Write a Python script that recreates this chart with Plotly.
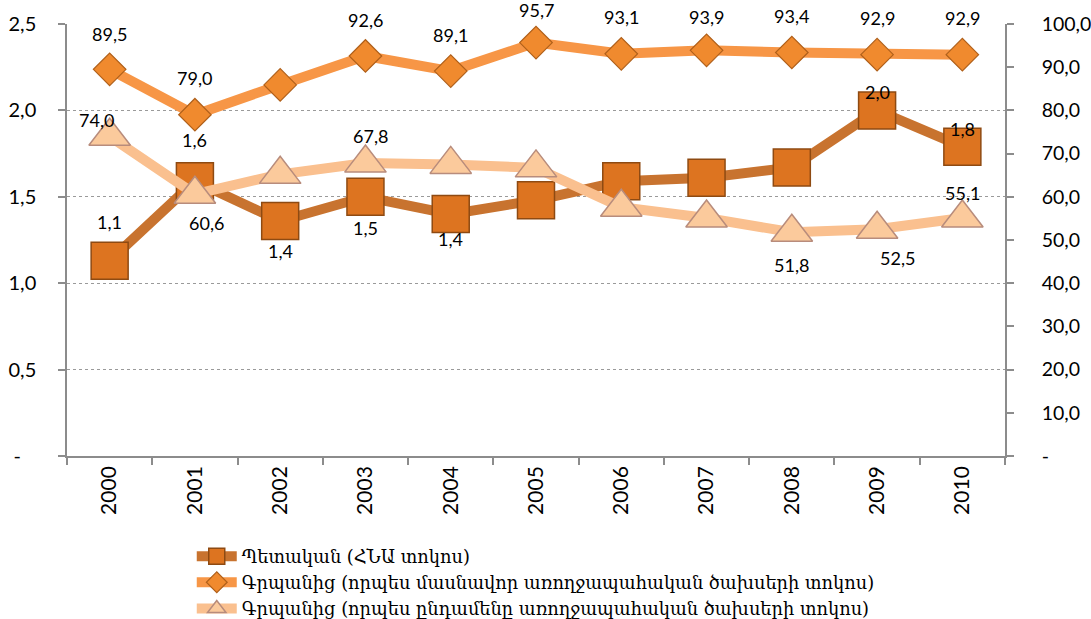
import plotly.graph_objects as go

# ---------------- data ----------------
years = ["2000", "2001", "2002", "2003", "2004", "2005", "2006", "2007", "2008", "2009", "2010"]
state_gdp = [1.13, 1.59, 1.36, 1.50, 1.40, 1.48, 1.59, 1.61, 1.67, 2.00, 1.79]
oop_private = [89.5, 79.0, 85.9, 92.6, 89.1, 95.7, 93.1, 93.9, 93.4, 92.9, 92.9]
oop_total = [74.0, 60.6, 65.2, 67.8, 67.5, 66.7, 57.6, 55.1, 51.8, 52.5, 55.1]

names = [
    "Պետական (ՀՆԱ տոկոս)",
    "Գրպանից (որպես մասնավոր առողջապահական ծախսերի տոկոս)",
    "Գրպանից (որպես ընդամենը առողջապահական ծախսերի տոկոս)",
]

left_ticks = [0, 0.5, 1.0, 1.5, 2.0, 2.5]
left_ticktext = ["-\u00a0\u00a0\u00a0", "0,5", "1,0", "1,5", "2,0", "2,5"]
right_ticks = [0, 10, 20, 30, 40, 50, 60, 70, 80, 90, 100]
right_ticktext = ["-", "10,0", "20,0", "30,0", "40,0", "50,0", "60,0", "70,0", "80,0", "90,0", "100,0"]

# label placement (style): index -> (xshift, yshift) in px
state_label_pos = {0: (0, 39), 1: (0, 41), 2: (0, -30), 3: (0, -31), 4: (0, -25), 9: (0, 18), 10: (0, 18)}
private_label_pos = {0: (0, 35), 1: (0, 37), 3: (0, 36), 4: (0, 36), 5: (0, 33), 6: (0, 37),
                     7: (0, 33), 8: (0, 37), 9: (0, 37), 10: (0, 37)}
total_label_pos = {0: (-13, 16), 1: (12, -29), 3: (5, 27), 8: (0, -33), 9: (20, -29), 10: (0, 25)}

# ---------------- styles ----------------
C_STATE_LINE = "#C8732F"
C_STATE_FILL = "#DD7420"
C_STATE_EDGE = "#8E4A12"
C_PRIV_LINE = "#F79646"
C_PRIV_FILL = "#F08A2E"
C_PRIV_EDGE = "#B0601A"
C_TOT_LINE = "#FAC08F"
C_TOT_FILL = "#FBCA9C"
C_TOT_EDGE = "#B88C7C"

NUM_FONT = "Lato, 'Open Sans', sans-serif"

fig = go.Figure()

fig.add_trace(go.Scatter(
    x=years, y=state_gdp, name=names[0], mode="lines+markers",
    line=dict(color=C_STATE_LINE, width=10),
    marker=dict(symbol="square", size=37, color=C_STATE_FILL,
                line=dict(color=C_STATE_EDGE, width=1.5)),
    yaxis="y", cliponaxis=False,
))
fig.add_trace(go.Scatter(
    x=years, y=oop_private, name=names[1], mode="lines+markers",
    line=dict(color=C_PRIV_LINE, width=10),
    marker=dict(symbol="diamond", size=25, color=C_PRIV_FILL,
                line=dict(color=C_PRIV_EDGE, width=1.2)),
    yaxis="y2", cliponaxis=False,
))
fig.add_trace(go.Scatter(
    x=years, y=oop_total, name=names[2], mode="lines+markers",
    line=dict(color=C_TOT_LINE, width=10),
    marker=dict(symbol="triangle-up", size=36, color=C_TOT_FILL,
                line=dict(color=C_TOT_EDGE, width=1.5)),
    yaxis="y2", cliponaxis=False,
))


def fmt(v):
    return f"{v:.1f}".replace(".", ",")


annotations = []
for series, yref, pos in ((state_gdp, "y", state_label_pos),
                          (oop_private, "y2", private_label_pos),
                          (oop_total, "y2", total_label_pos)):
    for i, (dx, dy) in pos.items():
        annotations.append(dict(
            x=i, y=series[i], xref="x", yref=yref, text=fmt(series[i]),
            showarrow=False, xshift=dx, yshift=dy, xanchor="center", yanchor="middle",
            font=dict(family=NUM_FONT, size=18, color="#000000"),
        ))

axis_grey = "#8C8C8C"

fig.update_layout(
    width=1091, height=619,
    margin=dict(l=67, r=86, t=24, b=163, pad=0, autoexpand=False),
    paper_bgcolor="white", plot_bgcolor="white",
    showlegend=True,
    legend=dict(
        x=0.133, y=-0.19, xanchor="left", yanchor="top",
        orientation="v", bgcolor="rgba(0,0,0,0)",
        font=dict(family="DejaVu Serif", size=17.8, color="#000000"),
        tracegroupgap=0, itemwidth=40,
    ),
    xaxis=dict(
        type="category", range=[-0.5, 10.5], automargin=False,
        showline=True, linecolor=axis_grey, linewidth=1.5,
        ticks="outside", tickson="boundaries", ticklen=7, tickcolor=axis_grey, tickwidth=1.5,
        tickangle=-90, tickfont=dict(family=NUM_FONT, size=21, color="#000000"),
        showgrid=False, zeroline=False,
    ),
    yaxis=dict(
        range=[0, 2.5], tickvals=left_ticks, ticktext=left_ticktext, automargin=False,
        showline=True, linecolor=axis_grey, linewidth=1.5,
        ticks="outside", ticklen=7, tickcolor=axis_grey, tickwidth=1.5,
        ticklabelstandoff=18,
        tickfont=dict(family=NUM_FONT, size=20, color="#000000"),
        showgrid=True, gridcolor="#9A9A9A", gridwidth=1, griddash="dot",
        zeroline=False,
    ),
    yaxis2=dict(
        range=[0, 100], tickvals=right_ticks, ticktext=right_ticktext, automargin=False,
        overlaying="y", side="right",
        showline=True, linecolor=axis_grey, linewidth=1.5,
        ticks="outside", ticklen=7, tickcolor=axis_grey, tickwidth=1.5,
        ticklabelstandoff=24,
        tickfont=dict(family=NUM_FONT, size=19.5, color="#000000"),
        showgrid=False, zeroline=False,
    ),
    annotations=annotations,
)

fig.write_html(
    "out.html",
    config={"displayModeBar": False},
    post_script="document.body.style.margin='0';document.body.style.padding='0';",
)
